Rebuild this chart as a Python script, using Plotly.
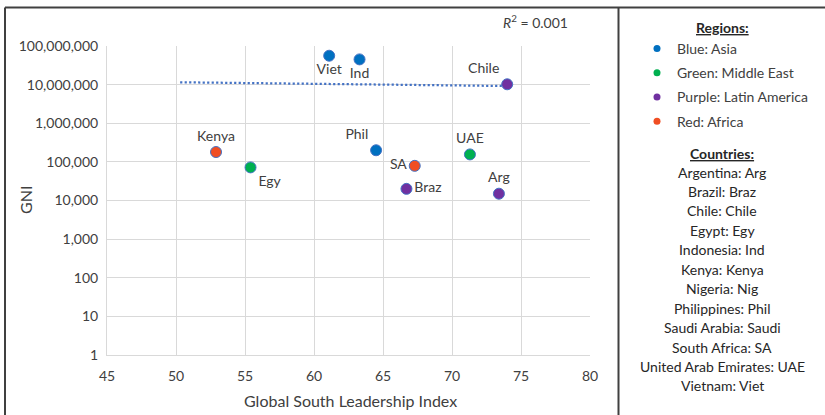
import plotly.graph_objects as go

W, H = 825, 415
def px(x):
    return x / W
def py(y):
    return 1 - y / H

# ---- data ----
region_names = ["Blue: Asia", "Green: Middle East", "Purple: Latin America", "Red: Africa"]
region_colors = ["#0070C0", "#00B050", "#7030A0", "#F04E23"]

asia_labels = ["Viet", "Ind", "Phil"]
asia_x = [61.1, 63.3, 64.5]
asia_y = [5.6e7, 4.5e7, 2.0e5]

mideast_labels = ["UAE", "Egy"]
mideast_x = [71.3, 55.4]
mideast_y = [1.56e5, 7.2e4]

latam_labels = ["Chile", "Braz", "Arg"]
latam_x = [74.0, 66.7, 73.4]
latam_y = [1.02e7, 2.0e4, 1.5e4]

africa_labels = ["Kenya", "SA"]
africa_x = [52.9, 67.3]
africa_y = [1.8e5, 7.9e4]

trend_x = [50.3, 74.0]
trend_y = [1.15e7, 9.2e6]
r_squared = "0.001"

y_tick_vals = [1, 10, 100, 1000, 10000, 100000, 1000000, 10000000, 100000000]
y_tick_labels = ["1", "10", "100", "1,000", "10,000", "100,000", "1,000,000", "10,000,000", "100,000,000"]

country_key = ["Argentina: Arg", "Brazil: Braz", "Chile: Chile", "Egypt: Egy",
               "Indonesia: Ind", "Kenya: Kenya", "Nigeria: Nig", "Philippines: Phil",
               "Saudi Arabia: Saudi", "South Africa: SA", "United Arab Emirates: UAE",
               "Vietnam: Viet"]

label_pos = {
    "Viet": "bottom center", "Ind": "bottom center", "Phil": "top left",
    "UAE": "top center", "Egy": "bottom right", "Chile": "top left",
    "Braz": "middle right", "Arg": "top center", "Kenya": "top center",
    "SA": "middle left",
}

FONT = "Lato"
TXT = "#404040"

groups = [
    (asia_labels, asia_x, asia_y),
    (mideast_labels, mideast_x, mideast_y),
    (latam_labels, latam_x, latam_y),
    (africa_labels, africa_x, africa_y),
]

fig = go.Figure()

# trendline
fig.add_trace(go.Scatter(
    x=trend_x, y=trend_y, mode="lines",
    line=dict(color="#4472C4", width=2.25, dash="2.2px,2.3px"),
    showlegend=False, hoverinfo="skip"))

for (labels, xs, ys), name, color in zip(groups, region_names, region_colors):
    fig.add_trace(go.Scatter(
        x=xs, y=ys, mode="markers+text", text=labels,
        textposition=[label_pos[l] for l in labels],
        textfont=dict(family=FONT, size=14, color=TXT),
        marker=dict(size=11, color=color, line=dict(color="#4472C4", width=1)),
        showlegend=False, name=name))
    # legend entry
    fig.add_trace(go.Scatter(
        x=[None], y=[None], mode="markers", name=name, legendgroup=name,
        marker=dict(size=7, color=color)))

fig.update_layout(
    width=W, height=H,
    margin=dict(l=0, r=0, t=0, b=0),
    paper_bgcolor="white", plot_bgcolor="white",
    font=dict(family=FONT, color=TXT, size=14),
    xaxis=dict(domain=[px(107), px(590)], range=[45, 80], dtick=5, tick0=45,
               gridcolor="#D9D9D9", showline=True, linecolor="#D9D9D9",
               zeroline=False, ticks="", automargin=False,
               tickfont=dict(family=FONT, size=14, color=TXT),
               ticklabelstandoff=8),
    yaxis=dict(domain=[py(355), py(46)], type="log", range=[0, 8],
               tickvals=y_tick_vals, ticktext=y_tick_labels,
               gridcolor="#D9D9D9", showline=True, linecolor="#D9D9D9",
               zeroline=False, ticks="", automargin=False,
               tickfont=dict(family=FONT, size=14, color=TXT),
               ticklabelstandoff=5),
    legend=dict(x=px(637), y=py(33), xanchor="left", yanchor="top",
                font=dict(family=FONT, size=14, color=TXT),
                bgcolor="rgba(0,0,0,0)", traceorder="grouped",
                tracegroupgap=3, itemwidth=30),
    showlegend=True,
)

ann = []
ann.append(dict(x=px(350), y=py(400), xref="paper", yref="paper",
                text="Global South Leadership Index", showarrow=False,
                font=dict(family=FONT, size=16, color=TXT),
                xanchor="center", yanchor="middle"))
ann.append(dict(x=px(25), y=py(200), xref="paper", yref="paper",
                text="GNI", showarrow=False, textangle=-90,
                font=dict(family=FONT, size=16, color=TXT),
                xanchor="center", yanchor="middle"))
ann.append(dict(x=px(535), y=py(22), xref="paper", yref="paper",
                text="<i>R</i><sup>2</sup> = " + r_squared, showarrow=False,
                font=dict(family=FONT, size=14, color=TXT),
                xanchor="center", yanchor="middle"))
ann.append(dict(x=px(722), y=py(27), xref="paper", yref="paper",
                text="<b><u>Regions:</u></b>", showarrow=False,
                font=dict(family=FONT, size=14, color="#262626"),
                xanchor="center", yanchor="middle"))
ann.append(dict(x=px(722), y=py(153), xref="paper", yref="paper",
                text="<b><u>Countries:</u></b>", showarrow=False,
                font=dict(family=FONT, size=14, color="#262626"),
                xanchor="center", yanchor="middle"))
for i, line in enumerate(country_key):
    ann.append(dict(x=px(722), y=py(172 + i * 19.45), xref="paper", yref="paper",
                    text=line, showarrow=False,
                    font=dict(family=FONT, size=14, color="#262626"),
                    xanchor="center", yanchor="middle"))
fig.update_layout(annotations=ann)

border = dict(color="#404040", width=2)
fig.add_shape(type="line", xref="paper", yref="paper", x0=px(5), x1=1, y0=py(7.5), y1=py(7.5), line=border)
fig.add_shape(type="line", xref="paper", yref="paper", x0=px(5), x1=px(5), y0=py(7.5), y1=0, line=border)
fig.add_shape(type="line", xref="paper", yref="paper", x0=px(618.5), x1=px(618.5), y0=py(7.5), y1=0, line=border)

fig.write_html("out.html",
               config={"displayModeBar": False},
               post_script="document.body.style.margin='0';document.body.style.overflow='hidden';")
